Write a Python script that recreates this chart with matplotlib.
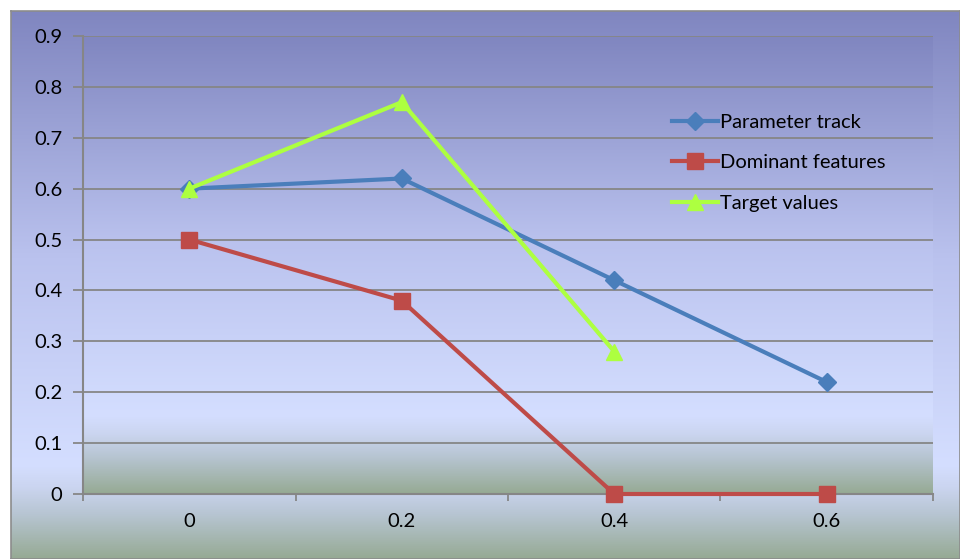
import numpy as np
import matplotlib.pyplot as plt
from matplotlib.colors import LinearSegmentedColormap

# === DATA ===
categories = ["0", "0.2", "0.4", "0.6"]
parameter_track = [0.6, 0.62, 0.42, 0.22]
dominant_features = [0.5, 0.38, 0.0, 0.0]
target_values = [0.6, 0.77, 0.28, np.nan]

# === STYLE ===
plt.rcParams['font.family'] = ['Lato', 'DejaVu Sans']
fs = 14.5
grid_col = "#868686"
bg = LinearSegmentedColormap.from_list("bg", [
    (0.00, (128/255, 134/255, 192/255)),
    (0.45, (186/255, 194/255, 238/255)),
    (0.83, (212/255, 222/255, 255/255)),
    (0.87, (203/255, 213/255, 240/255)),
    (0.92, (183/255, 197/255, 210/255)),
    (1.00, (150/255, 170/255, 148/255)),
])
grad = np.linspace(0, 1, 256).reshape(-1, 1)

fig = plt.figure(figsize=(9.6, 5.59), dpi=100, facecolor="white")
W, H = 960, 559

# outer chart area with its own gradient and border
bg_ax = fig.add_axes([11 / W, 0, 1 - 11 / W, 1 - 11 / H])
bg_ax.imshow(grad, aspect="auto", cmap=bg, extent=[0, 1, 1, 0])
bg_ax.set_xlim(0, 1)
bg_ax.set_ylim(1, 0)
bg_ax.set_xticks([])
bg_ax.set_yticks([])
for s in bg_ax.spines.values():
    s.set_color("#8c8c8c")
    s.set_linewidth(1.2)

# plot area
ax = fig.add_axes([83 / W, (H - 494) / H, (933 - 83) / W, (494 - 36) / H])
ax.imshow(grad, aspect="auto", cmap=bg, extent=[-0.5, 3.5, 0, 0.9],
          origin="upper", zorder=0)
ax.set_xlim(-0.5, 3.5)
ax.set_ylim(0, 0.9)

x = np.arange(len(categories))
ax.plot(x, parameter_track, color="#4a7ebb", lw=3, marker="D", ms=9,
        label="Parameter track", zorder=3, clip_on=False)
ax.plot(x, dominant_features, color="#be4b48", lw=3, marker="s", ms=11,
        label="Dominant features", zorder=3, clip_on=False)
ax.plot(x, target_values, color="#adff40", lw=3, marker="^", ms=12,
        label="Target values", zorder=4, clip_on=False)

# gridlines and axes
ax.set_yticks(np.arange(0, 0.91, 0.1))
ax.set_yticklabels(["0"] + [f"{v:.1f}" for v in np.arange(0.1, 0.91, 0.1)])
ax.grid(axis="y", color=grid_col, lw=1.3, zorder=1)
ax.set_axisbelow(True)
ax.set_xticks(x)
ax.set_xticklabels(categories)
ax.set_xticks(np.arange(-0.5, 3.6, 1), minor=True)
ax.tick_params(axis="x", which="major", length=0, pad=14, labelsize=fs)
ax.tick_params(axis="x", which="minor", length=5, width=1.3, color=grid_col,
               direction="out")
ax.tick_params(axis="y", length=7, width=1.3, color=grid_col, pad=8,
               labelsize=fs)
for side in ["top", "right"]:
    ax.spines[side].set_visible(False)
for side in ["left", "bottom"]:
    ax.spines[side].set_color(grid_col)
    ax.spines[side].set_linewidth(1.5)

ax.legend(loc="upper left", bbox_to_anchor=(672 / W, 1 - 114 / H),
          bbox_transform=fig.transFigure, frameon=False, fontsize=fs,
          handlelength=2.3, handletextpad=0.1, labelspacing=1.15,
          borderpad=0, borderaxespad=0)

fig.savefig("out.png", dpi=100, facecolor="white")
